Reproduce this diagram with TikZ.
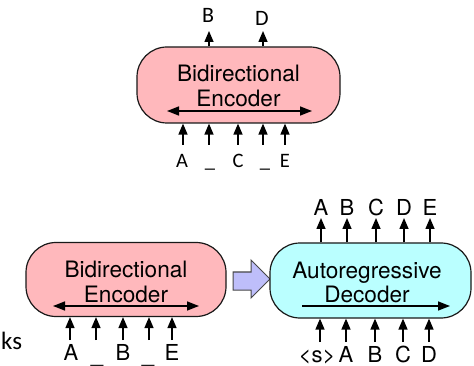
\documentclass[tikz,border=0pt]{standalone}
\usepackage{fontspec}
\setmainfont{TeX Gyre Heros}
\newfontfamily\calfont{Carlito}
\usetikzlibrary{arrows.meta}
\definecolor{pinkfill}{RGB}{255,184,188}
\definecolor{cyanfill}{RGB}{186,255,255}
\definecolor{lavfill}{RGB}{190,190,250}
\definecolor{edgec}{RGB}{25,25,25}
\begin{document}
\begin{tikzpicture}[x=1pt,y=-1pt,
  box/.style={draw=edgec, line width=1.2pt, rounded corners=30pt, inner sep=0pt},
  boxtext/.style={font=\fontsize{22.6}{23}\selectfont, inner sep=0pt, anchor=base},
  clbl/.style={font=\calfont\fontsize{20.5}{21}\selectfont, inner sep=0pt, anchor=base},
  hlbl/.style={font=\fontsize{22}{22}\selectfont, inner sep=0pt, anchor=base},
  tok/.style={-{Triangle[length=11pt,width=9pt]}, line width=1.5pt},
  flow/.style={line width=1.5pt},
  bihead/.style={{Triangle[length=12pt,width=9pt]}-{Triangle[length=12pt,width=9pt]}},
]
\useasboundingbox (0,0) rectangle (474,366);

% ---------- top: bidirectional encoder ----------
\node[box, fill=pinkfill, minimum width=203pt, minimum height=76pt] (enc1) at (238.5,85) {};
\node[boxtext] (enc1a) at (238.5,82) {Bidirectional};
\node[boxtext] (enc1b) at (238.5,107) {Encoder};
\coordinate (enc1l) at (167,111);
\coordinate (enc1r) at (312,111);
\draw[flow, bihead] (enc1l) -- (enc1r);

% outputs
\node[clbl, font=\calfont\fontsize{22}{22}\selectfont] (o1b) at (208,23) {B};
\node[clbl, font=\calfont\fontsize{22}{22}\selectfont] (o1d) at (262,26) {D};
\coordinate (o1bt) at (209,31);
\coordinate (o1dt) at (263,31);
\draw[tok] (o1bt |- enc1.north) -- (o1bt);
\draw[tok] (o1dt |- enc1.north) -- (o1dt);

% inputs
\node[clbl] (i1a) at (182,168) {A};
\node[clbl] (i1b) at (210,168) {\_};
\node[clbl] (i1c) at (238,168) {C};
\node[clbl] (i1d) at (265,168) {\_};
\node[clbl] (i1e) at (285,168) {E};
\foreach \n/\x in {a/183,b/209,c/238,d/263,e/285}{
  \coordinate (i1\n t) at (\x,145);
  \draw[tok] (i1\n t) -- (i1\n t |- enc1.south);
}

% ---------- bottom left: bidirectional encoder ----------
\node[box, fill=pinkfill, minimum width=200pt, minimum height=74pt] (enc2) at (126,279.5) {};
\node[boxtext] (enc2a) at (126,277) {Bidirectional};
\node[boxtext] (enc2b) at (126,302) {Encoder};
\coordinate (enc2l) at (53,306);
\coordinate (enc2r) at (199,306);
\draw[flow, bihead] (enc2l) -- (enc2r);

\node[hlbl] (i2a) at (71,360) {A};
\node[hlbl] (i2b) at (97,362) {\_};
\node[hlbl] (i2c) at (123,360) {B};
\node[hlbl] (i2d) at (148,362) {\_};
\node[hlbl] (i2e) at (172,360) {E};
\foreach \n/\x in {a/70,b/96,c/123,d/149,e/172}{
  \coordinate (i2\n t) at (\x,340);
  \draw[tok] (i2\n t) -- (i2\n t |- enc2.south);
}

\node[font=\calfont\fontsize{25}{25}\selectfont, inner sep=0pt, anchor=base west] (ks) at (1,349) {ks};

% ---------- block arrow ----------
\draw[fill=lavfill, draw=edgec!80, line width=1pt]
  (233,272) -- (251,272) -- (251,260) -- (270,279) -- (251,298) -- (251,290) -- (233,290) -- cycle;

% ---------- bottom right: autoregressive decoder ----------
\node[box, fill=cyanfill, minimum width=201pt, minimum height=75pt] (dec) at (370.5,280.5) {};
\node[boxtext] (deca) at (367,278) {Autoregressive};
\node[boxtext] (decb) at (367,302) {Decoder};
\coordinate (decl) at (302,306);
\coordinate (decr) at (450,306);
\draw[flow, -{Triangle[length=12pt,width=9pt]}] (decl) -- (decr);

\foreach \n/\x/\t in {a/321/A,b/347/B,c/376/C,d/404/D,e/430/E}{
  \node[hlbl] (o3\n) at (\x,216) {\t};
  \coordinate (o3\n t) at (\x,218);
  \draw[tok] (o3\n t |- dec.north) -- (o3\n t);
}
\node[hlbl] (i3a) at (317,362) {\textless{}s\textgreater{}};
\node[hlbl] (i3b) at (346,362) {A};
\node[hlbl] (i3c) at (375,362) {B};
\node[hlbl] (i3d) at (403,362) {C};
\node[hlbl] (i3e) at (429,362) {D};
\foreach \n/\x in {a/320,b/346,c/375,d/403,e/429}{
  \coordinate (i3\n t) at (\x,342);
  \draw[tok] (i3\n t) -- (i3\n t |- dec.south);
}
\end{tikzpicture}
\end{document}
